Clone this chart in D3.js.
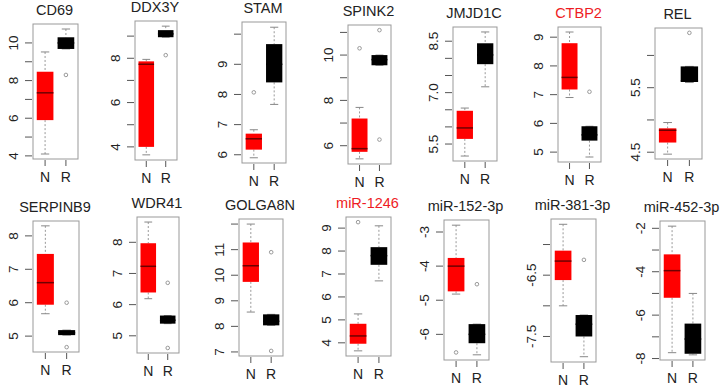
<!DOCTYPE html>
<html>
<head>
<meta charset="utf-8">
<script src="https://cdn.jsdelivr.net/npm/d3@7"></script>
<style>
  body { margin: 0; background: #fff; }
  svg { display: block; font-family: "Liberation Sans", Arial, sans-serif; }
</style>
</head>
<body>
<svg width="726" height="387"></svg>
<script>
  var genes = ["CD69", "DDX3Y", "STAM", "SPINK2", "JMJD1C", "CTBP2", "REL",
               "SERPINB9", "WDR41", "GOLGA8N", "miR-1246", "miR-152-3p", "miR-381-3p", "miR-452-3p"];
  var highlighted = ["CTBP2", "miR-1246"]; // titles shown in red
  var groups = ["N", "R"];

  // [lower whisker, Q1, median, Q3, upper whisker]
  var nStats = [
    [4.1, 5.9, 7.35, 8.47, 9.52],
    [3.64, 4.0, 7.73, 7.86, 7.95],
    [5.9, 6.17, 6.53, 6.7, 6.83],
    [5.42, 5.73, 5.87, 7.2, 7.69],
    [5.15, 5.65, 5.97, 6.47, 6.55],
    [6.9, 7.18, 7.6, 8.79, 9.18],
    [4.47, 4.65, 4.84, 4.87, 4.96],
    [5.67, 5.94, 6.6, 7.46, 8.3],
    [6.19, 6.39, 7.23, 7.97, 8.65],
    [8.56, 9.74, 10.37, 11.28, 12.0],
    [3.65, 3.96, 4.3, 4.83, 5.26],
    [-4.82, -4.74, -4.0, -3.76, -2.8],
    [-7.0, -6.58, -6.27, -6.1, -5.67],
    [-7.73, -5.2, -3.95, -3.2, -1.9]
  ];
  var rStats = [
    [9.68, 9.68, 10.0, 10.3, 10.74],
    [8.95, 8.95, 9.1, 9.27, 9.45],
    [7.67, 8.4, 9.0, 9.67, 10.23],
    [9.55, 9.55, 9.8, 10.0, 10.0],
    [7.17, 7.83, 8.1, 8.44, 8.77],
    [4.83, 5.4, 5.6, 5.9, 5.9],
    [5.58, 5.6, 5.6, 5.83, 5.83],
    [5.03, 5.03, 5.1, 5.18, 5.18],
    [5.39, 5.39, 5.5, 5.65, 5.65],
    [8.04, 8.04, 8.2, 8.47, 8.47],
    [6.7, 7.4, 7.8, 8.17, 9.1],
    [-6.6, -6.26, -6.0, -5.7, -5.7],
    [-7.83, -7.5, -7.3, -7.15, -7.15],
    [-7.83, -7.78, -7.1, -6.39, -5.0]
  ];
  var nOutliers = [[], [], [8.07], [10.3], [], [], [], [], [], [], [9.26], [-6.53], [], []];
  var rOutliers = [[8.3], [8.14], [], [11.1, 6.27], [], [7.1], [6.35], [6.0, 4.67], [6.7, 4.61],
                   [10.9, 7.04], [], [-4.53], [-6.25], []];

  var tickValues = [
    [4, 5, 6, 7, 8, 9, 10],
    [4, 5, 6, 7, 8, 9],
    [6, 7, 8, 9, 10],
    [6, 7, 8, 9, 10, 11],
    [5.5, 6.0, 6.5, 7.0, 7.5, 8.0, 8.5],
    [5, 6, 7, 8, 9],
    [4.5, 5.0, 5.5, 6.0],
    [5, 6, 7, 8],
    [5, 6, 7, 8],
    [7, 8, 9, 10, 11, 12],
    [4, 5, 6, 7, 8, 9],
    [-6, -5, -4, -3],
    [-7.5, -7.0, -6.5, -6.0],
    [-8, -7, -6, -5, -4, -3, -2]
  ];
  var tickLabels = [
    ["4", "", "6", "", "8", "", "10"],
    ["4", "", "6", "", "8", ""],
    ["6", "7", "8", "9", ""],
    ["6", "", "8", "", "10", ""],
    ["5.5", "", "", "7.0", "", "", "8.5"],
    ["5", "6", "7", "8", "9"],
    ["4.5", "", "5.5", ""],
    ["5", "6", "7", "8"],
    ["5", "6", "7", "8"],
    ["7", "8", "9", "10", "11", ""],
    ["4", "5", "6", "7", "8", "9"],
    ["-6", "-5", "-4", "-3"],
    ["-7.5", "", "-6.5", ""],
    ["-8", "", "-6", "", "-4", "", "-2"]
  ];

  // plot frame of each panel: [left, top, right, bottom]
  var frames = [
    [33, 24, 78, 159], [135, 21, 177, 160], [242, 22, 286, 163], [348, 25, 391, 164],
    [453, 27, 497, 161], [558, 27, 601, 162], [655, 28, 702, 159],
    [33, 221, 79, 352], [137, 217, 179, 353], [239, 219, 283, 356], [346, 217, 391, 356],
    [444, 220, 489, 360], [551, 219, 596, 362], [660, 221, 705, 360]
  ];

  var fills = {N: "#ff0000", R: "#000000"};
  var medianColor = {N: "#6e0000", R: "#000000"};

  var svg = d3.select("svg");

  genes.forEach(function(gene, i) {
    var f = frames[i];
    var left = f[0], top = f[1], right = f[2], bottom = f[3];

    // R style: data range extended by 4%
    var all = nStats[i].concat(rStats[i], nOutliers[i], rOutliers[i]);
    var lo = d3.min(all), hi = d3.max(all), pad = (hi - lo) * 0.04;

    var y = d3.scaleLinear().domain([lo - pad, hi + pad]).range([bottom, top]);
    var x = d3.scaleLinear().domain([0.42, 2.58]).range([left, right]);

    var g = svg.append("g");

    // title
    g.append("text")
        .attr("x", (left + right) / 2 - 1)
        .attr("y", top - 9)
        .attr("text-anchor", "middle")
        .attr("font-size", "14.5px")
        .attr("fill", highlighted.indexOf(gene) >= 0 ? "#ee1c24" : "#222")
        .text(gene);

    var boxes = [
      {key: "N", pos: 1, s: nStats[i], out: nOutliers[i]},
      {key: "R", pos: 2, s: rStats[i], out: rOutliers[i]}
    ];

    boxes.forEach(function(b) {
      var cx = x(b.pos);
      var half = x(b.pos + 0.4) - cx;
      var cap = half / 2;

      // whiskers
      g.append("line")
          .attr("x1", cx).attr("x2", cx)
          .attr("y1", y(b.s[4])).attr("y2", y(b.s[3]))
          .attr("stroke", "#999").attr("stroke-dasharray", "2,2");
      g.append("line")
          .attr("x1", cx).attr("x2", cx)
          .attr("y1", y(b.s[1])).attr("y2", y(b.s[0]))
          .attr("stroke", "#999").attr("stroke-dasharray", "2,2");
      [b.s[0], b.s[4]].forEach(function(v) {
        g.append("line")
            .attr("x1", cx - cap).attr("x2", cx + cap)
            .attr("y1", y(v)).attr("y2", y(v))
            .attr("stroke", "#888");
      });

      // box
      g.append("rect")
          .attr("x", cx - half)
          .attr("y", y(b.s[3]))
          .attr("width", half * 2)
          .attr("height", Math.max(1.5, y(b.s[1]) - y(b.s[3])))
          .attr("fill", fills[b.key]);

      g.append("line")
          .attr("x1", cx - half).attr("x2", cx + half)
          .attr("y1", y(b.s[2])).attr("y2", y(b.s[2]))
          .attr("stroke", medianColor[b.key]).attr("stroke-width", 1.5);

      // outliers
      g.selectAll(null)
        .data(b.out)
        .enter().append("circle")
          .attr("cx", cx)
          .attr("cy", function(d) { return y(d); })
          .attr("r", 1.8)
          .attr("fill", "none")
          .attr("stroke", "#999");

      // x tick + label
      g.append("line")
          .attr("x1", cx).attr("x2", cx)
          .attr("y1", bottom + 1).attr("y2", bottom + 7)
          .attr("stroke", "#555");
      g.append("text")
          .attr("x", cx)
          .attr("y", bottom + 23)
          .attr("text-anchor", "middle")
          .attr("font-size", "14px")
          .attr("fill", "#222")
          .text(b.key);
    });

    // frame
    g.append("rect")
        .attr("x", left).attr("y", top)
        .attr("width", right - left).attr("height", bottom - top)
        .attr("fill", "none")
        .attr("stroke", "#999");

    // y ticks
    tickValues[i].forEach(function(v, k) {
      g.append("line")
          .attr("x1", left - 8).attr("x2", left - 1)
          .attr("y1", y(v)).attr("y2", y(v))
          .attr("stroke", "#555");
      if (tickLabels[i][k]) {
        g.append("text")
            .attr("transform", "translate(" + (left - 15) + "," + y(v) + ") rotate(-90)")
            .attr("text-anchor", "middle")
            .attr("font-size", "13.5px")
            .attr("fill", "#222")
            .text(tickLabels[i][k]);
      }
    });
  });
</script>
</body>
</html>
